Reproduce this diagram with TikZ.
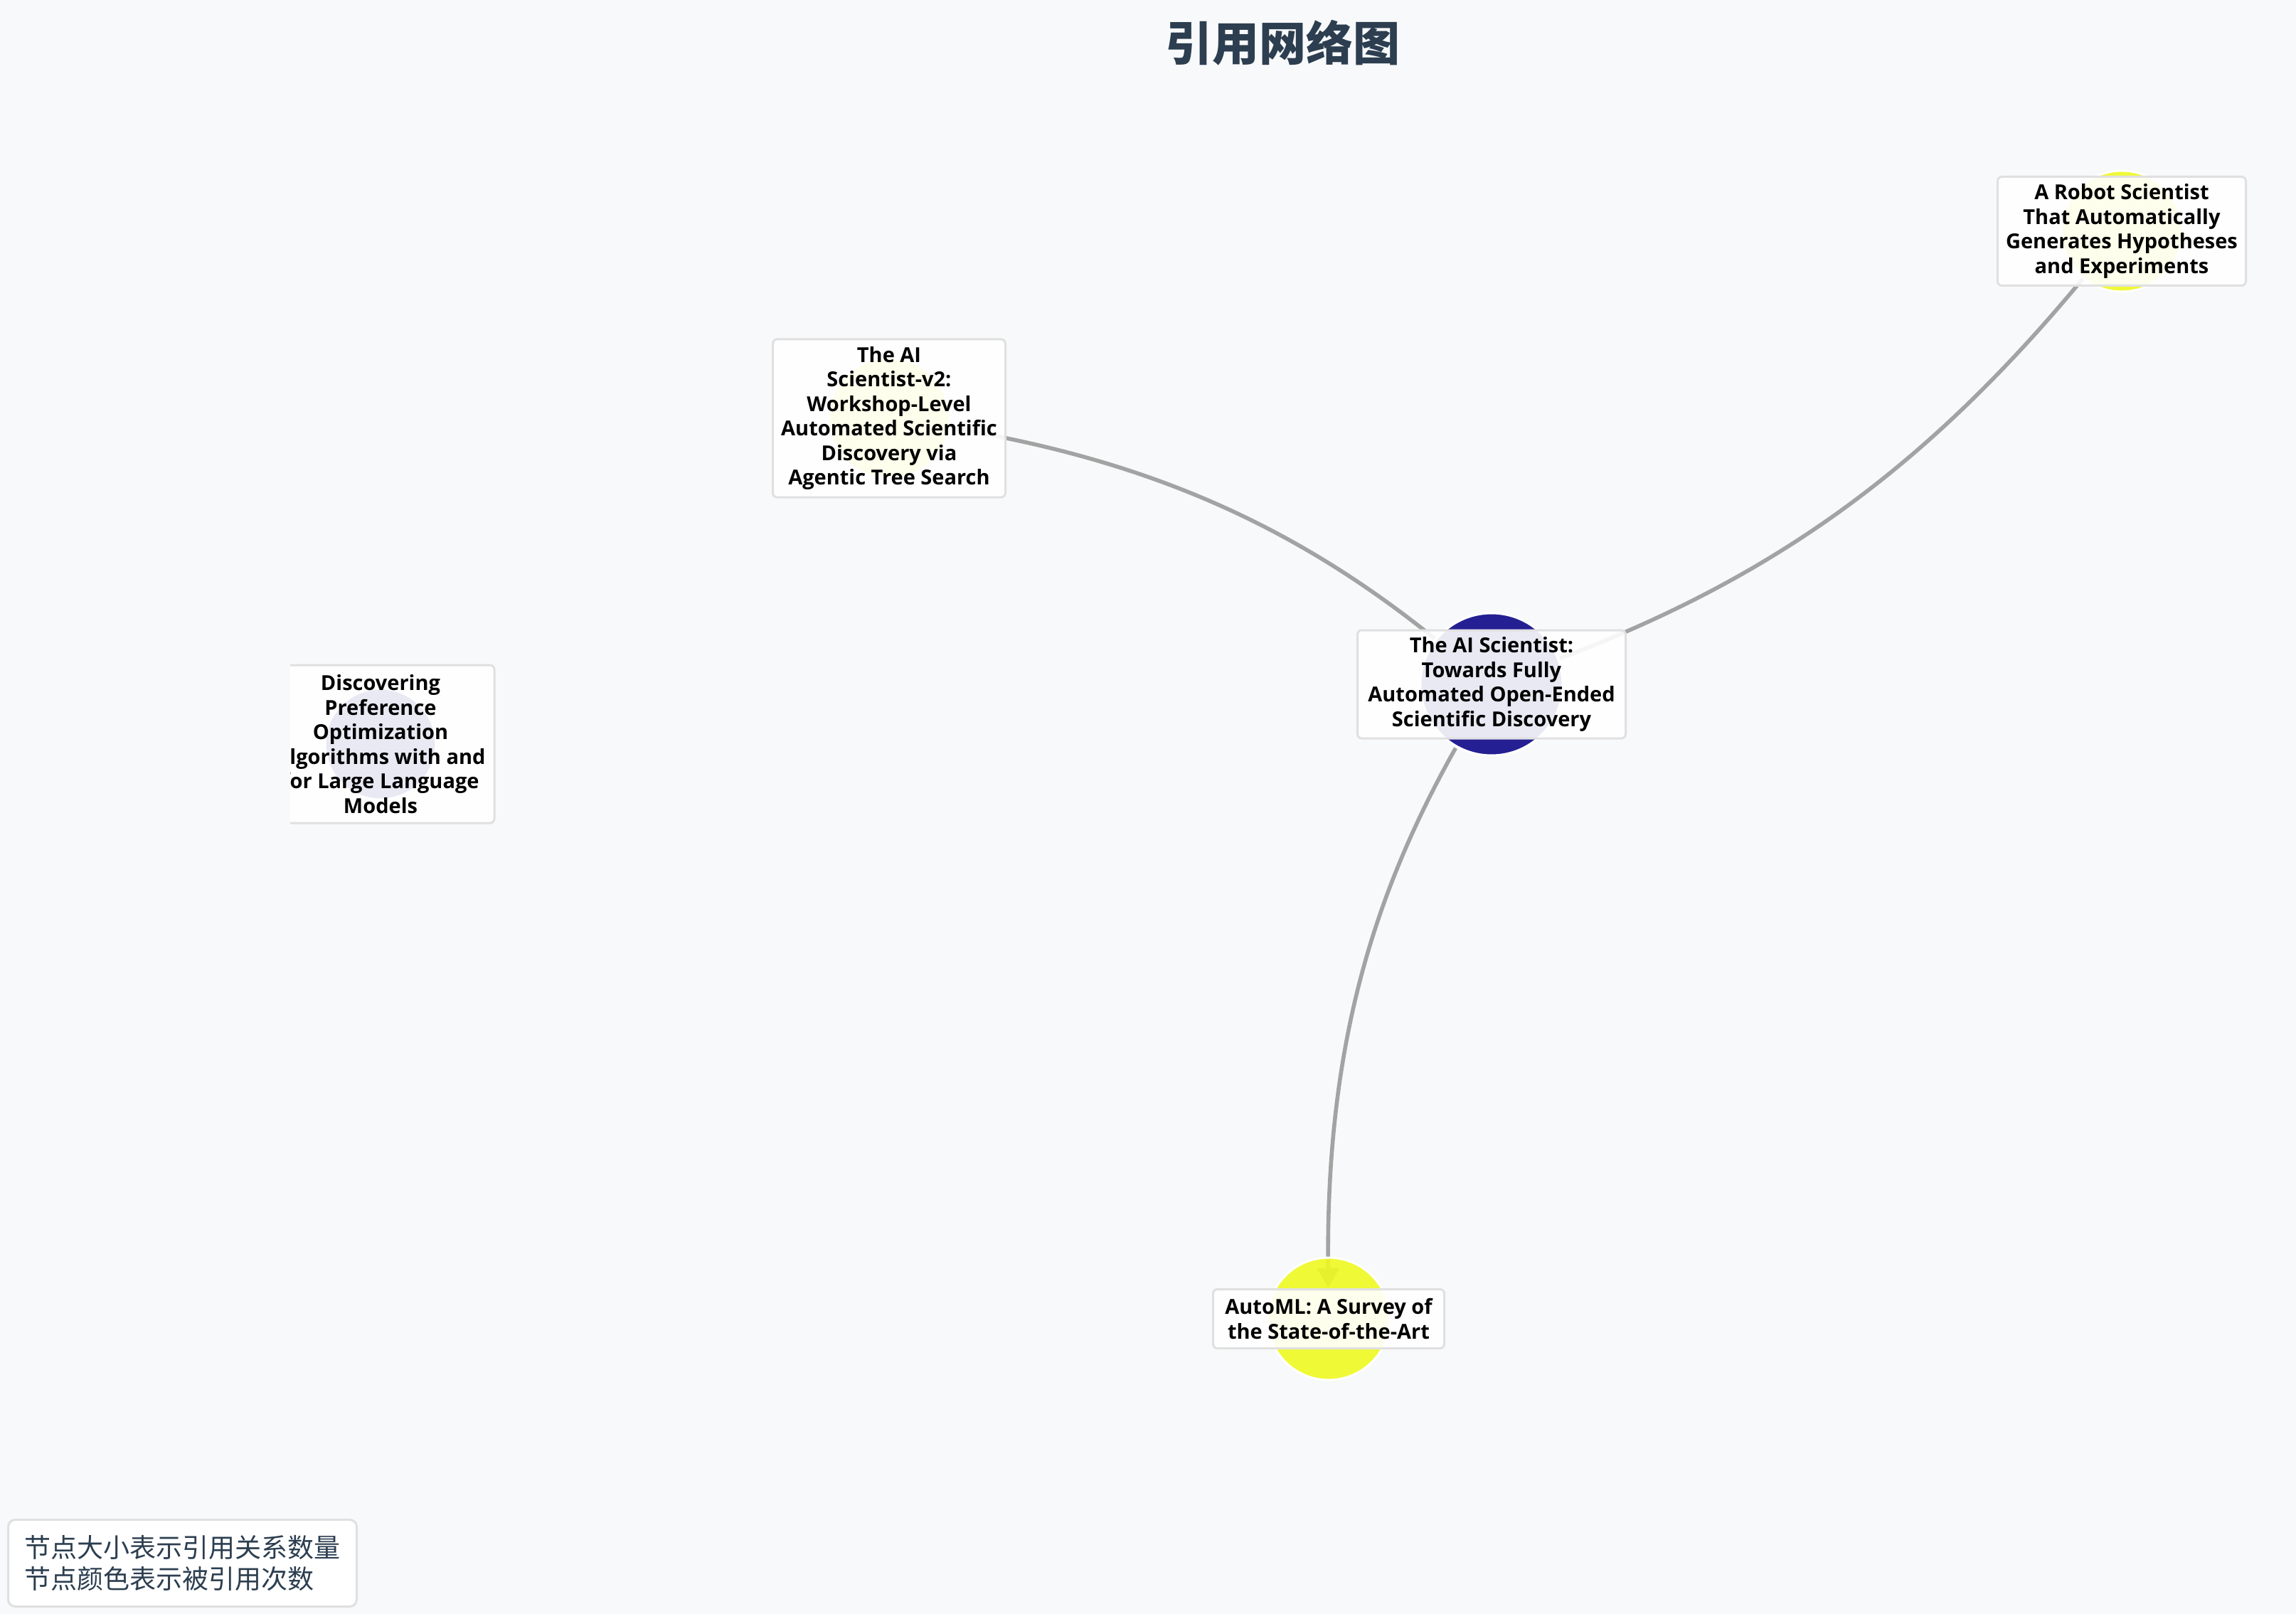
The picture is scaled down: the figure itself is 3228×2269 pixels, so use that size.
\documentclass[tikz,border=0pt]{standalone}
\usepackage{fontspec}
\setmainfont{Open Sans}
\newfontfamily\cjkfont{Noto Sans CJK SC}
\usetikzlibrary{arrows.meta}
\definecolor{bgcol}{HTML}{F8F9FA}
\definecolor{plow}{HTML}{0D0887}
\definecolor{phigh}{HTML}{F0F921}
\definecolor{edgecol}{HTML}{A2A3A2}
\definecolor{boxborder}{HTML}{E0E0E0}
\definecolor{titlecol}{HTML}{2C3E50}
\pgfdeclarelayer{bglayer}
\pgfdeclarelayer{edgelayer}
\pgfsetlayers{bglayer,edgelayer,main}
\begin{document}
\begin{tikzpicture}[x=0.25pt,y=-0.25pt,
  circ/.style={circle, draw=white, line width=0.75pt, fill opacity=0.9, inner sep=0pt},
  lbl/.style={rectangle, rounded corners=1.5pt, draw=boxborder, line width=0.75pt, fill=white, fill opacity=0.9, text opacity=1, align=center, inner sep=0pt, text=black, font=\fontsize{7.25pt}{8.625pt}\selectfont\bfseries},
  edge/.style={draw=edgecol, line width=1.4pt, -{Triangle[length=6.75pt,width=7.5pt]}, shorten <=25.75pt, shorten >=11pt}]
\begin{pgfonlayer}{bglayer}
\fill[bgcol] (0,0) rectangle (3228,2269);
\end{pgfonlayer}
\useasboundingbox (0,0) rectangle (3228,2269);

% title
\node[font=\cjkfont\fontsize{16.5pt}{20pt}\selectfont\bfseries, text=titlecol] (title) at (1803,60) {引用网络图};

% circles
\node[circ, fill=phigh, minimum size=42.5pt] (robot) at (2983,325) {};
\node[circ, fill=phigh, minimum size=42.5pt] (v2) at (1250,588) {};
\node[circ, fill=plow, minimum size=50pt] (ai) at (2097,962) {};
\node[circ, fill=phigh, minimum size=43pt] (automl) at (1868,1854) {};

% edges
\begin{pgfonlayer}{edgelayer}
\draw[edge] (ai.center) to[bend right=15] (v2.center);
\draw[edge] (ai.center) to[bend right=15] (robot.center);
\draw[edge] (ai.center) to[bend right=15] (automl.center);
\end{pgfonlayer}

% labels
\node[lbl, minimum width=87.25pt, minimum height=38.25pt] (robot-l) at (robot) {A Robot Scientist\\That Automatically\\Generates Hypotheses\\and Experiments};
\node[lbl, minimum width=81.75pt, minimum height=55.5pt] (v2-l) at (v2) {The AI\\Scientist-v2:\\Workshop-Level\\Automated Scientific\\Discovery via\\Agentic Tree Search};
\node[lbl, minimum width=94.25pt, minimum height=38pt] (ai-l) at (ai) {The AI Scientist:\\Towards Fully\\Automated Open-Ended\\Scientific Discovery};
\node[lbl, minimum width=81.25pt, minimum height=20.75pt] (automl-l) at (automl) {AutoML: A Survey of\\the State-of-the-Art};

\begin{scope}
\clip (408,0) rectangle (3228,2269);
\node[circ, fill=plow, minimum size=39pt] (disc) at (535,1046) {};
\node[lbl, minimum width=80pt, minimum height=55.5pt] (disc-l) at (disc) {Discovering\\Preference\\Optimization\\Algorithms with and\\for Large Language\\Models};
\end{scope}

% legend
\node[draw=boxborder, line width=0.75pt, fill=white, rounded corners=2.5pt, anchor=north west, minimum width=122.5pt, minimum height=30.5pt, align=left, inner sep=0pt, text=titlecol, font=\cjkfont\fontsize{9.25pt}{11pt}\selectfont] (legend) at (10,2135) {节点大小表示引用关系数量\\节点颜色表示被引用次数};
\end{tikzpicture}
\end{document}
